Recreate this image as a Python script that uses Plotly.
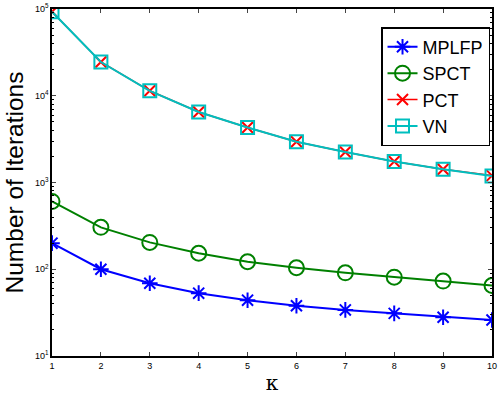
import plotly.graph_objects as go

kappa = [1, 2, 3, 4, 5, 6, 7, 8, 9, 10]
mplfp = [200, 100, 69, 53, 44, 38, 34, 31, 28, 26]
spct = [605, 304, 204, 153, 122, 104, 91, 81, 73, 65]
pct = [93000, 24500, 11400, 6500, 4300, 2950, 2250, 1750, 1420, 1200]
vn = [93000, 24500, 11400, 6500, 4300, 2950, 2250, 1750, 1420, 1190]
ytick_vals = [10, 100, 1000, 10000, 100000]
ytick_text = ["10<sup>1</sup>", "10<sup>2</sup>", "10<sup>3</sup>", "10<sup>4</sup>", "10<sup>5</sup>"]
minor_vals = [m * d for d in [10, 100, 1000, 10000] for m in range(2, 10)]

fig = go.Figure()
fig.add_trace(go.Scatter(x=kappa, y=mplfp, name="MPLFP", mode="lines+markers",
                         line=dict(color="#0000FF", width=2),
                         marker=dict(symbol="asterisk-open", size=13, line=dict(color="#0000FF", width=2))))
fig.add_trace(go.Scatter(x=kappa, y=spct, name="SPCT", mode="lines+markers",
                         line=dict(color="#008000", width=2),
                         marker=dict(symbol="circle-open", size=15, line=dict(color="#008000", width=2))))
fig.add_trace(go.Scatter(x=kappa, y=pct, name="PCT", mode="lines+markers",
                         line=dict(color="#FF0000", width=1.5),
                         marker=dict(symbol="x-thin-open", size=11, line=dict(color="#FF0000", width=2))))
fig.add_trace(go.Scatter(x=kappa, y=vn, name="VN", mode="lines+markers",
                         line=dict(color="#00BFBF", width=2),
                         marker=dict(symbol="square-open", size=13, line=dict(color="#00BFBF", width=2))))

fig.update_layout(
    width=498, height=396,
    margin=dict(l=52, r=6, t=9, b=40),
    paper_bgcolor="white", plot_bgcolor="white",
    font=dict(family="Liberation Sans, Arial, sans-serif", color="black", size=9),
    showlegend=True,
    legend=dict(x=0.9955, y=0.948, xanchor="right", yanchor="top",
                bgcolor="white", bordercolor="black", borderwidth=1.5,
                font=dict(size=18, family="Liberation Sans, Arial, sans-serif"),
                itemwidth=30, tracegroupgap=0),
)
fig.update_xaxes(range=[1, 10], tickvals=kappa, ticks="inside", ticklen=4,
                 showline=True, linecolor="black", linewidth=1.5, mirror="ticks",
                 showgrid=False, zeroline=False, automargin=False,
                 title=dict(text="κ", font=dict(family="DejaVu Serif, serif", size=20), standoff=6))
fig.update_yaxes(type="log", range=[1, 5], tickvals=ytick_vals, ticktext=ytick_text,
                 ticks="inside", ticklen=4,
                 minor=dict(ticks="inside", ticklen=2.5, tickcolor="black", tickvals=minor_vals,
                            showgrid=False),
                 showline=True, linecolor="black", linewidth=1.5, mirror="ticks",
                 showgrid=False, zeroline=False, automargin=False,
                 title=dict(text="Number of Iterations", font=dict(size=24.5), standoff=4))

fig.write_html("out.html", config={"displayModeBar": False},
               post_script="document.body.style.margin='0';document.body.style.overflow='hidden';")
